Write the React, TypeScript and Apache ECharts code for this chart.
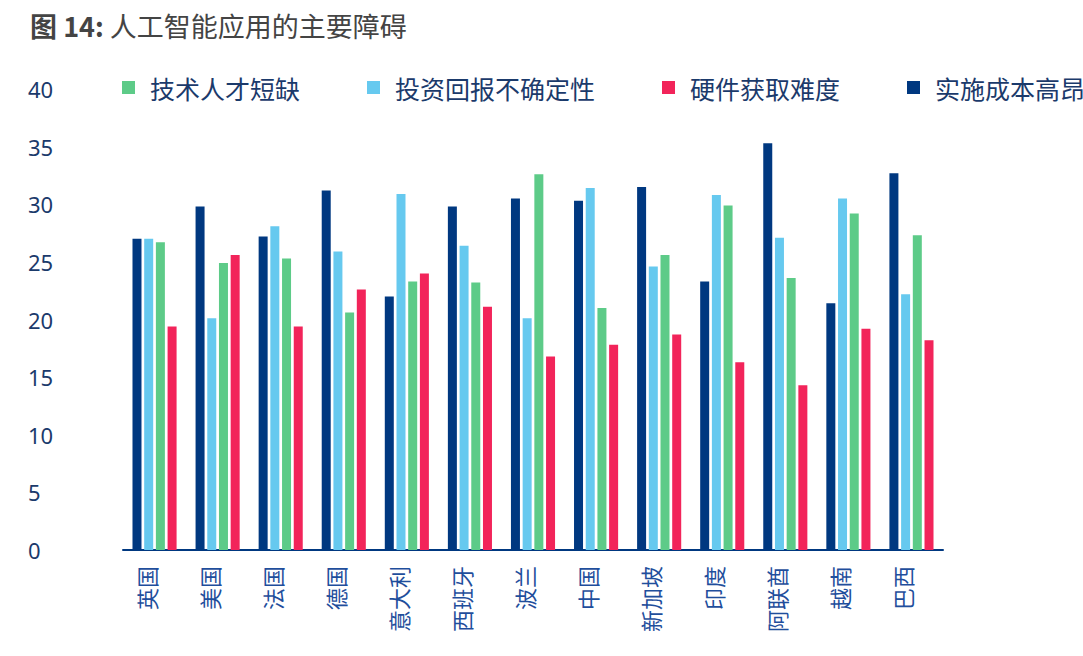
import React, { useEffect, useRef } from "react";
import * as echarts from "echarts";

const categories = ["英国", "美国", "法国", "德国", "意大利", "西班牙", "波兰", "中国", "新加坡", "印度", "阿联酋", "越南", "巴西"];
const costHigh = [27.0, 29.8, 27.2, 31.2, 22.0, 29.8, 30.5, 30.3, 31.5, 23.3, 35.3, 21.4, 32.7];
const roiUncertain = [27.0, 20.1, 28.1, 25.9, 30.9, 26.4, 20.1, 31.4, 24.6, 30.8, 27.1, 30.5, 22.2];
const talentShortage = [26.7, 24.9, 25.3, 20.6, 23.3, 23.2, 32.6, 21.0, 25.6, 29.9, 23.6, 29.2, 27.3];
const hardwareAccess = [19.4, 25.6, 19.4, 22.6, 24.0, 21.1, 16.8, 17.8, 18.7, 16.3, 14.3, 19.2, 18.2];
const yTicks = [0, 5, 10, 15, 20, 25, 30, 35, 40];

const NAVY = "#003880";
const LBLUE = "#66C9EF";
const GREEN = "#5DCB88";
const RED = "#F2245A";
const CJK = "'Noto Sans CJK SC', 'Noto Sans', sans-serif";

export default function App() {
  const ref = useRef<HTMLDivElement>(null);
  useEffect(() => {
    document.body.style.margin = "0";
    const chart = echarts.init(ref.current!, null, { renderer: "svg" });
    const bar = (name: string, data: number[], color: string) => ({
      name,
      type: "bar",
      data,
      barWidth: 9,
      barGap: "30%",
      itemStyle: { color },
    });
    chart.setOption({
      animation: false,
      title: {
        text: "{b|图 14:} 人工智能应用的主要障碍",
        left: 30,
        top: 12,
        padding: 0,
        textStyle: {
          fontFamily: CJK,
          fontSize: 27,
          fontWeight: "normal",
          color: "#444444",
          rich: {
            b: { fontFamily: CJK, fontSize: 27, fontWeight: "bold", color: "#444444" },
          },
        },
      },
      legend: {
        data: [
          { name: "技术人才短缺", itemStyle: { color: GREEN } },
          { name: "投资回报不确定性", itemStyle: { color: LBLUE } },
          { name: "硬件获取难度", itemStyle: { color: RED } },
          { name: "实施成本高昂", itemStyle: { color: NAVY } },
        ],
        left: 122,
        top: 75,
        width: 1400,
        padding: 0,
        icon: "rect",
        itemWidth: 13,
        itemHeight: 13,
        itemGap: 67,
        textStyle: {
          fontFamily: CJK,
          fontSize: 25,
          color: "#1B3A6B",
          padding: [0, 0, 0, 10],
        },
      },
      grid: { left: 123, right: 140, top: 89, bottom: 106 },
      xAxis: {
        type: "category",
        data: categories,
        axisLine: { lineStyle: { color: NAVY, width: 2 } },
        axisTick: { show: false },
        axisLabel: {
          rotate: 90,
          margin: 16,
          interval: 0,
          fontFamily: CJK,
          fontSize: 22,
          color: "#1F4E9C",
          verticalAlign: "bottom",
          lineHeight: 18,
        },
      },
      yAxis: {
        type: "value",
        min: yTicks[0],
        max: yTicks[yTicks.length - 1],
        interval: 5,
        axisLine: { show: false },
        axisTick: { show: false },
        splitLine: { show: false },
        axisLabel: {
          align: "left",
          margin: 95,
          fontFamily: "'Noto Sans', sans-serif",
          fontSize: 22,
          color: "#1B3A6B",
        },
      },
      series: [
        bar("实施成本高昂", costHigh, NAVY),
        bar("投资回报不确定性", roiUncertain, LBLUE),
        bar("技术人才短缺", talentShortage, GREEN),
        bar("硬件获取难度", hardwareAccess, RED),
      ],
    });
    return () => chart.dispose();
  }, []);
  return <div ref={ref} style={{ width: 1083, height: 656 }} />;
}
